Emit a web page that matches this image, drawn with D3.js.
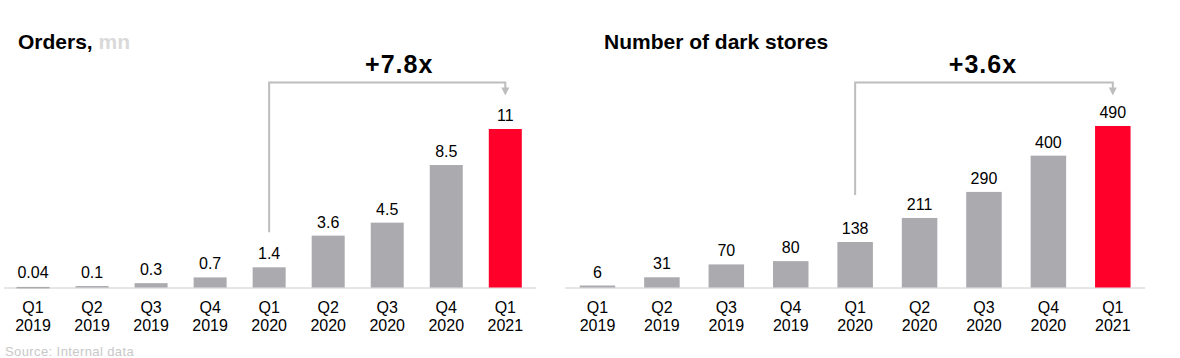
<!DOCTYPE html>
<html>
<head>
<meta charset="utf-8">
<script src="https://cdn.jsdelivr.net/npm/d3@7"></script>
<style>
  html, body { margin: 0; padding: 0; background: #fff; }
  svg { display: block; font-family: "Liberation Sans", Arial, Helvetica, sans-serif; }
</style>
</head>
<body>
<svg id="chart" width="1180" height="358"></svg>
<script>
// ---- Data ----
const quarters = ["Q1", "Q2", "Q3", "Q4", "Q1", "Q2", "Q3", "Q4", "Q1"];
const years = ["2019", "2019", "2019", "2019", "2020", "2020", "2020", "2020", "2021"];
const ordersValues = [0.04, 0.1, 0.3, 0.7, 1.4, 3.6, 4.5, 8.5, 11];
const ordersLabels = ["0.04", "0.1", "0.3", "0.7", "1.4", "3.6", "4.5", "8.5", "11"];
const storesValues = [6, 31, 70, 80, 138, 211, 290, 400, 490];
const storesLabels = ["6", "31", "70", "80", "138", "211", "290", "400", "490"];
const ordersTitle = "Orders,";
const ordersUnit = " mn";
const storesTitle = "Number of dark stores";
const ordersGrowth = "+7.8x";
const storesGrowth = "+3.6x";
const growthFrom = 4; // index of Q1 2020
const growthTo = 8;   // index of Q1 2021
const sourceText = "Source: Internal data";

// ---- Styling ----
const GRAY = "#aaaaaf";
const RED = "#ff002b";
const AXIS = "#dedede";
const BRACKET = "#bdbdbd";
const baseline = 287.5;

const svg = d3.select("#chart");

function drawPanel(opt) {
  const idx = d3.range(opt.values.length);
  const x = d3.scalePoint().domain(idx).range(opt.xRange);
  const y = d3.scaleLinear().domain([0, opt.yMax]).range([baseline, opt.yTop]);
  const g = svg.append("g");

  // axis line
  g.append("line")
    .attr("x1", opt.axisRange[0]).attr("x2", opt.axisRange[1])
    .attr("y1", baseline + 0.5).attr("y2", baseline + 0.5)
    .attr("stroke", AXIS).attr("stroke-width", 1.5);

  // bars
  g.selectAll("rect.bar").data(opt.values).join("rect")
    .attr("class", "bar")
    .attr("x", (d, i) => x(i) - opt.barW / 2)
    .attr("width", opt.barW)
    .attr("y", d => y(d))
    .attr("height", d => Math.max(1.5, baseline - y(d)))
    .attr("fill", (d, i) => i === opt.values.length - 1 ? RED : GRAY);

  // value labels
  g.selectAll("text.val").data(opt.values).join("text")
    .attr("class", "val")
    .attr("x", (d, i) => x(i))
    .attr("y", d => Math.min(y(d), baseline - 1.5) - 8)
    .attr("text-anchor", "middle")
    .attr("font-size", 16)
    .attr("fill", "#000")
    .text((d, i) => opt.labels[i]);

  // category labels
  const cat = g.selectAll("text.cat").data(idx).join("text")
    .attr("class", "cat")
    .attr("text-anchor", "middle")
    .attr("font-size", 16)
    .attr("fill", "#000");
  cat.append("tspan").attr("x", i => x(i)).attr("y", 312.5).text(i => quarters[i]);
  cat.append("tspan").attr("x", i => x(i)).attr("y", 330.5).text(i => years[i]);

  // title
  const t = g.append("text")
    .attr("x", opt.titleX).attr("y", 48.5)
    .attr("font-size", 21).attr("font-weight", "bold").attr("fill", "#000");
  t.append("tspan").text(opt.title);
  if (opt.unit) t.append("tspan").attr("fill", "#d9d9d9").text(opt.unit);

  // growth bracket
  const x0 = x(growthFrom), x1 = x(growthTo);
  const yBottom = y(opt.values[growthFrom]) - opt.bracketGap;
  const yTopB = 82.5;
  const tip = 95.5;
  g.append("path")
    .attr("d", `M${x0},${yBottom}V${yTopB}H${x1}V${tip - 7}`)
    .attr("fill", "none").attr("stroke", BRACKET).attr("stroke-width", 2);
  g.append("path")
    .attr("d", `M${x1 - 4},${tip - 8}L${x1 + 4},${tip - 8}L${x1},${tip}Z`)
    .attr("fill", BRACKET);
  g.append("text")
    .attr("x", (x0 + x1) / 2 + opt.growthDx).attr("y", 73)
    .attr("text-anchor", "middle")
    .attr("font-size", 25).attr("font-weight", "bold")
    .attr("letter-spacing", 1)
    .attr("fill", "#000")
    .text(opt.growth);
}

drawPanel({
  values: ordersValues, labels: ordersLabels, yMax: 11, yTop: 129,
  xRange: [33, 505.3], barW: 33, axisRange: [4, 536],
  title: ordersTitle, unit: ordersUnit, titleX: 18,
  growth: ordersGrowth, bracketGap: 35, growthDx: 12
});
drawPanel({
  values: storesValues, labels: storesLabels, yMax: 490, yTop: 126,
  xRange: [597.5, 1112.8], barW: 35.5, axisRange: [565, 1145],
  title: storesTitle, unit: null, titleX: 604,
  growth: storesGrowth, bracketGap: 47, growthDx: -1
});

// source
svg.append("text")
  .attr("x", 5).attr("y", 356)
  .attr("font-size", 13).attr("fill", "#c8c8c8")
  .attr("letter-spacing", 0.4)
  .text(sourceText);
</script>
</body>
</html>
